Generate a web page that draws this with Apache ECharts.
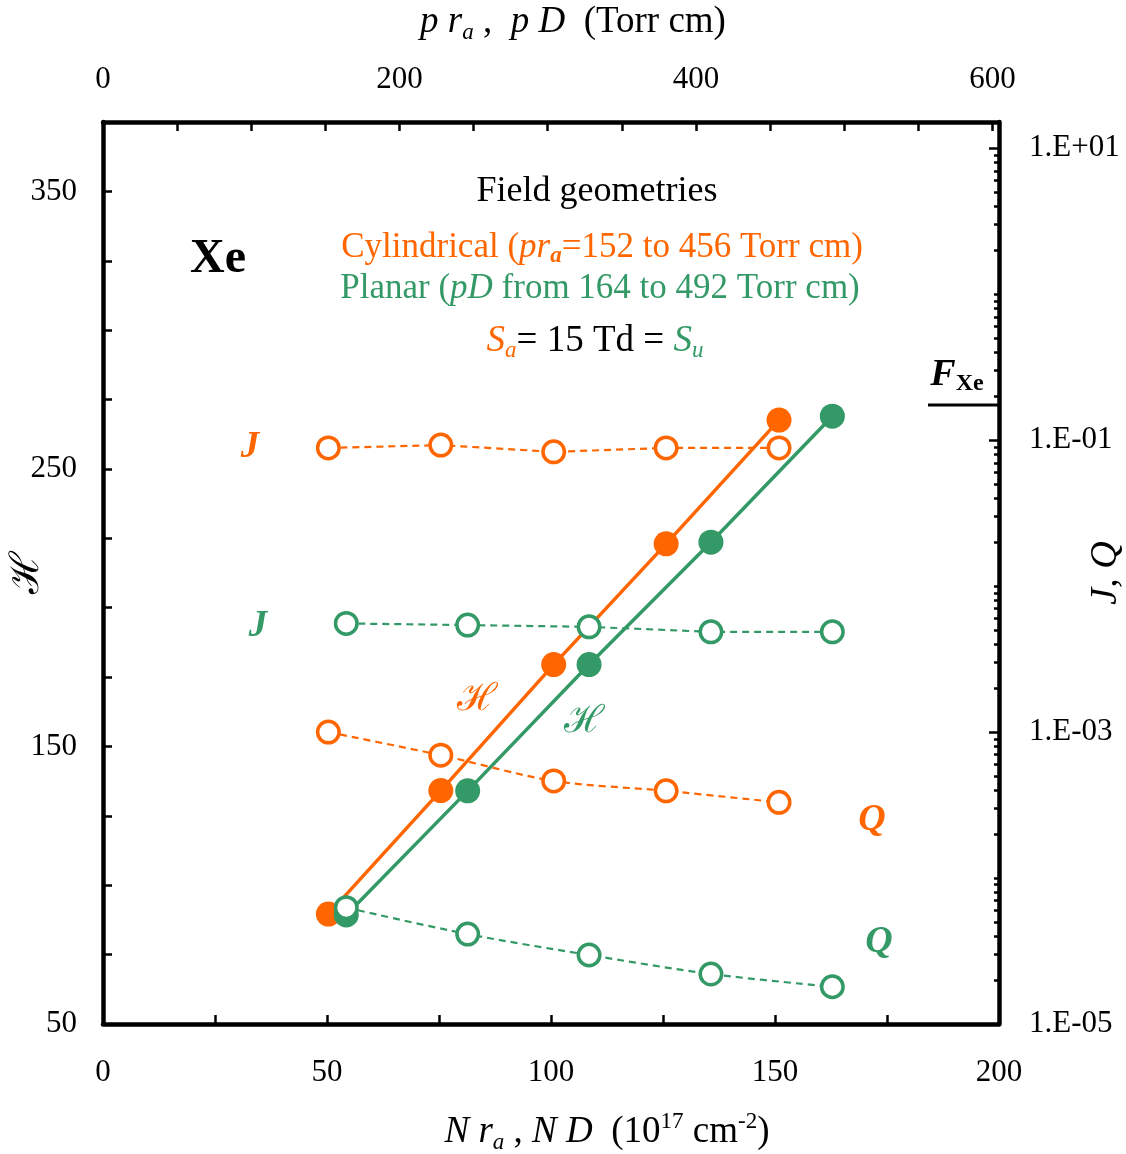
<!DOCTYPE html>
<html>
<head>
<meta charset="utf-8">
<script src="https://cdn.jsdelivr.net/npm/echarts@6/dist/echarts.min.js"></script>
<style>
html, body { margin: 0; padding: 0; background: #fff; }
#chart { width: 1126px; height: 1154px; }
</style>
</head>
<body>
<div id="chart"></div>
<script>
// x values: N r_a (cylindrical) and N D (planar), 1e17 cm^-2
const cylX = [50.3, 75.4, 100.6, 125.7, 150.9];
const planX = [54.3, 81.4, 108.5, 135.7, 162.8];
// H on the left axis
const cylH = [89.6, 134.1, 179.5, 223.0, 267.6];
const planH = [89.3, 134.0, 179.5, 223.6, 269.0];
// J and Q on the right (log) axis
const cylJ = [8.85e-2, 9.25e-2, 8.32e-2, 8.85e-2, 8.85e-2];
const planJ = [5.55e-3, 5.41e-3, 5.26e-3, 4.86e-3, 4.86e-3];
const cylQ = [1.0e-3, 6.95e-4, 4.63e-4, 3.96e-4, 3.30e-4];
const planQ = [6.27e-5, 4.13e-5, 2.97e-5, 2.20e-5, 1.80e-5];
// axis ranges
const nMax = 200;
const torrPerN = 3.022;        // p r_a (Torr cm) per N r_a (1e17 cm^-2)
const hMin = 50, hMax = 375;
const logMin = -5, logMax = 1.18;

const ORANGE = '#FF6600';
const GREEN = '#339966';
const SERIF = '"Liberation Serif", "DejaVu Serif", serif';

// log minor tick positions (m * 10^k)
const minorTicks = [];
for (let k = logMin; k <= 1; k++) {
  for (let m = 1; m <= 9; m++) {
    const v = k + Math.log10(m);
    if (v <= logMax) minorTicks.push(v);
  }
}

const chart = echarts.init(document.getElementById('chart'));

const filled = (name, xs, ys, color) => ({
  name, type: 'line', xAxisIndex: 0, yAxisIndex: 0,
  data: xs.map((x, i) => [x, ys[i]]),
  symbol: 'circle', symbolSize: 25,
  itemStyle: { color: color },
  lineStyle: { color: color, width: 3.5 },
  z: 2
});

const open = (name, xs, vals, color, smooth) => ({
  name, type: 'line', xAxisIndex: 0, yAxisIndex: 1,
  data: xs.map((x, i) => [x, Math.log10(vals[i])]),
  symbol: 'circle', symbolSize: 21.5, smooth: smooth,
  itemStyle: { color: '#fff', borderColor: color, borderWidth: 3.5 },
  lineStyle: { color: color, width: 2.2, type: [7, 5] },
  z: 3
});

const tickStyle = { show: true, inside: true, length: 9, lineStyle: { color: '#000', width: 2.5 } };
const lineStyle = { show: true, onZero: false, lineStyle: { color: '#000', width: 4.5 } };
const labelFont = { color: '#000', fontFamily: SERIF, fontSize: 31 };

const expLabel = v => {
  if (Math.abs(v - Math.round(v)) > 1e-6 || Math.round(v) % 2 === 0) return '';
  const e = Math.round(v);
  return '1.E' + (e < 0 ? '-' : '+') + String(Math.abs(e)).padStart(2, '0');
};

const txt = (x, y, text, font, fill, rich) => ({
  type: 'text', x: x, y: y, silent: true,
  style: {
    text: text, font: font, fill: fill || '#000', rich: rich,
    align: 'center', verticalAlign: 'middle',
    textAlign: 'center', textVerticalAlign: 'middle'
  }
});

const nameRich = {
  i: { fontFamily: SERIF, fontSize: 37, fontStyle: 'italic', color: '#000', lineHeight: 44 },
  n: { fontFamily: SERIF, fontSize: 37, color: '#000', lineHeight: 44 },
  s: { fontFamily: SERIF, fontSize: 23, fontStyle: 'italic', color: '#000', lineHeight: 18, verticalAlign: 'bottom' },
  u: { fontFamily: SERIF, fontSize: 23, color: '#000', lineHeight: 18, verticalAlign: 'top' }
};

chart.setOption({
  animation: false,
  backgroundColor: '#fff',
  grid: { left: 103, right: 127, top: 122, bottom: 130, containLabel: false, outerBoundsMode: 'none' },
  xAxis: [
    {
      type: 'value', position: 'bottom', min: 0, max: nMax, interval: 25,
      axisLine: lineStyle, axisTick: tickStyle, splitLine: { show: false },
      axisLabel: Object.assign({ margin: 33, formatter: v => (v % 50 === 0 ? String(v) : '') }, labelFont),
      name: '{i|N r}{s|a}{n| , }{i|N D}{n|  (10}{u|17}{n| cm}{u|-2}{n|)}',
      nameLocation: 'middle', nameGap: 86, nameMoveOverlap: false,
      nameTextStyle: { rich: nameRich, padding: [0, 0, 0, 112] }
    },
    {
      type: 'value', position: 'top', min: 0, max: nMax * torrPerN, interval: 50,
      axisLine: lineStyle, axisTick: tickStyle, splitLine: { show: false },
      axisLabel: Object.assign({ margin: 27, formatter: v => (v % 200 === 0 ? String(v) : '') }, labelFont),
      name: '{i|p r}{s|a}{n| ,  }{i|p D}{n|  (Torr cm)}',
      nameLocation: 'middle', nameGap: 78, nameMoveOverlap: false,
      nameTextStyle: { rich: nameRich, padding: [0, 0, 0, 44] }
    }
  ],
  yAxis: [
    {
      type: 'value', position: 'left', min: hMin, max: hMax, interval: 25,
      axisLine: lineStyle, axisTick: tickStyle, splitLine: { show: false },
      axisLabel: Object.assign({ margin: 26, formatter: v => ((v - 50) % 100 === 0 ? String(v) : '') }, labelFont),
      name: '\u210B', nameLocation: 'middle', nameGap: 56, nameRotate: 90, nameMoveOverlap: false,
      nameTextStyle: { fontFamily: SERIF, fontSize: 40, color: '#000', padding: [0, 0, 0, 0] }
    },
    {
      type: 'value', position: 'right', min: logMin, max: logMax, interval: 2,
      axisLine: lineStyle,
      axisTick: { show: true, inside: true, length: 10, lineStyle: { color: '#000', width: 2.5 } },
      splitLine: { show: false },
      axisLabel: Object.assign({ margin: 30, formatter: expLabel }, labelFont),
      name: 'J, Q', nameLocation: 'middle', nameGap: 88, nameRotate: 90, nameMoveOverlap: false,
      nameTextStyle: { fontFamily: SERIF, fontSize: 38, fontStyle: 'italic', color: '#000' }
    },
    {
      type: 'value', position: 'right', min: logMin, max: logMax,
      axisLine: { show: false, onZero: false },
      axisTick: { show: true, inside: true, length: 5, customValues: minorTicks, lineStyle: { color: '#000', width: 2.5 } },
      axisLabel: { show: false },
      splitLine: { show: false }
    }
  ],
  series: [
    filled('cylH', cylX, cylH, ORANGE),
    filled('planH', planX, planH, GREEN),
    open('cylJ', cylX, cylJ, ORANGE, false),
    open('planJ', planX, planJ, GREEN, false),
    open('cylQ', cylX, cylQ, ORANGE, 0.3),
    open('planQ', planX, planQ, GREEN, 0.3)
  ],
  graphic: [
    txt(218, 260, 'Xe', 'bold 48px ' + SERIF),
    txt(597, 192, 'Field geometries', '36px ' + SERIF),
    txt(602, 248, '{n|Cylindrical (}{i|pr}{b|a}{n|=152 to 456 Torr cm)}', '35px ' + SERIF, ORANGE, {
      n: { font: '35px ' + SERIF, fill: ORANGE, lineHeight: 40 },
      i: { font: 'italic 35px ' + SERIF, fill: ORANGE, lineHeight: 40 },
      b: { font: 'italic bold 23px ' + SERIF, fill: ORANGE, lineHeight: 17, verticalAlign: 'bottom' }
    }),
    txt(600, 289, '{n|Planar (}{i|pD}{n| from 164 to 492 Torr cm)}', '35px ' + SERIF, GREEN, {
      n: { font: '35px ' + SERIF, fill: GREEN },
      i: { font: 'italic 35px ' + SERIF, fill: GREEN }
    }),
    txt(595, 341, '{o|S}{os|a}{k|= 15 Td = }{g|S}{gs|u}', '37px ' + SERIF, '#000', {
      o: { font: 'italic 37px ' + SERIF, fill: ORANGE, lineHeight: 42 },
      os: { font: 'italic 23px ' + SERIF, fill: ORANGE, lineHeight: 16, verticalAlign: 'bottom' },
      k: { font: '37px ' + SERIF, fill: '#000', lineHeight: 42 },
      g: { font: 'italic 37px ' + SERIF, fill: GREEN, lineHeight: 42 },
      gs: { font: 'italic 23px ' + SERIF, fill: GREEN, lineHeight: 16, verticalAlign: 'bottom' }
    }),
    txt(250, 447, 'J', 'italic bold 37px ' + SERIF, ORANGE),
    txt(258, 626, 'J', 'italic bold 37px ' + SERIF, GREEN),
    txt(477, 700, '\u210B', '38px ' + SERIF, ORANGE),
    txt(584, 722, '\u210B', '38px ' + SERIF, GREEN),
    txt(872, 820, 'Q', 'italic bold 38px ' + SERIF, ORANGE),
    txt(879, 942, 'Q', 'italic bold 38px ' + SERIF, GREEN),
    txt(957, 375, '{f|F}{s|Xe}', 'bold 38px ' + SERIF, '#000', {
      f: { font: 'italic bold 38px ' + SERIF, fill: '#000', lineHeight: 42 },
      s: { font: 'bold 24px ' + SERIF, fill: '#000', lineHeight: 18, verticalAlign: 'bottom' }
    }),
    { type: 'line', silent: true, shape: { x1: 928, y1: 405, x2: 998, y2: 405 }, style: { stroke: '#000', lineWidth: 3 } }
  ]
});
</script>
</body>
</html>
